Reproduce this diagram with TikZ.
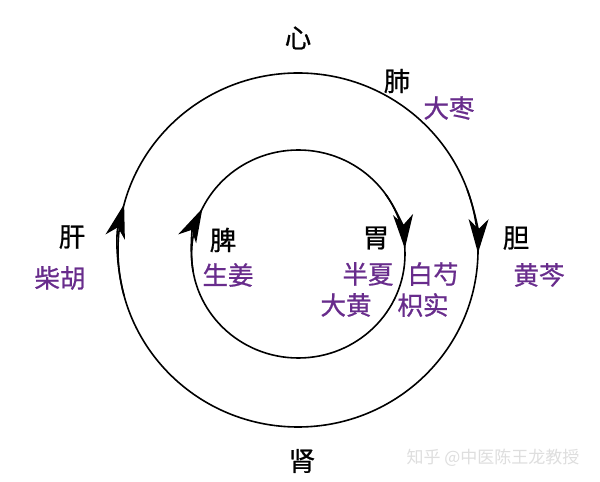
\documentclass[tikz,border=0pt]{standalone}
\usepackage{fontspec}
\newfontfamily\cjk[FakeBold=0.8]{Noto Sans CJK SC}
\newfontfamily\cjkw{Noto Sans CJK SC}
\usetikzlibrary{arrows.meta,calc}
\definecolor{herb}{RGB}{104,44,140}
\definecolor{wm}{RGB}{222,222,222}
\begin{document}
\begin{tikzpicture}[x=1pt,y=1pt,
  organ/.style={font=\cjk\fontsize{26.5}{26.5}\selectfont, text=black, inner sep=0pt},
  herblabel/.style={font=\cjk\fontsize{25.5}{25.5}\selectfont, text=herb, inner sep=0pt},
  ring/.style={line width=1.6pt, draw=black},
  tip/.style={line width=1.6pt, -{Stealth[length=34pt,width=20pt,inset=10pt]}}]
\useasboundingbox[fill=white] (0,0) rectangle (600,482);
% circles (image y -> 482 - y)
\coordinate (co) at (298,232);
\coordinate (ci) at (298.3,228);
\draw[ring] (co) ellipse [x radius=180, y radius=177];
\draw[ring] (ci) ellipse [x radius=106.7, y radius=104];
% arrowheads (clockwise)
\draw[tip] ($(co)+(20:180 and 177)$) arc [start angle=20, end angle=-1, x radius=180, y radius=177];
\draw[tip] ($(co)+(195:180 and 177)$) arc [start angle=195, end angle=165, x radius=180, y radius=177];
\draw[tip] ($(ci)+(35:106.7 and 104)$) arc [start angle=35, end angle=3, x radius=106.7, y radius=104];
\draw[tip] ($(ci)+(190:106.7 and 104)$) arc [start angle=190, end angle=154, x radius=106.7, y radius=104];
% organ labels
\node[organ] (xin) at (298,444) {心};
\node[organ] (fei) at (397,401) {肺};
\node[organ] (gan) at (72,245) {肝};
\node[organ] (pi) at (223,242) {脾};
\node[organ] (wei) at (376,244) {胃};
\node[organ] (dan) at (516,244) {胆};
\node[organ] (shen) at (302,21) {肾};
% herb labels
\node[herblabel] (dazao) at (449,374) {大枣};
\node[herblabel] (chaihu) at (60,204) {柴胡};
\node[herblabel] (shengjiang) at (228,207) {生姜};
\node[herblabel] (banxia) at (368,208) {半夏};
\node[herblabel] (dahuang) at (346,177) {大黄};
\node[herblabel] (baishao) at (433,208) {白芍};
\node[herblabel] (zhishi) at (423,177) {枳实};
\node[herblabel] (huangqin) at (539,207) {黄芩};
% watermark
\node[font=\cjkw\fontsize{17}{17}\selectfont, text=wm, inner sep=0pt] (wmk) at (493,24) {知乎 @中医陈王龙教授};
\end{tikzpicture}
\end{document}
